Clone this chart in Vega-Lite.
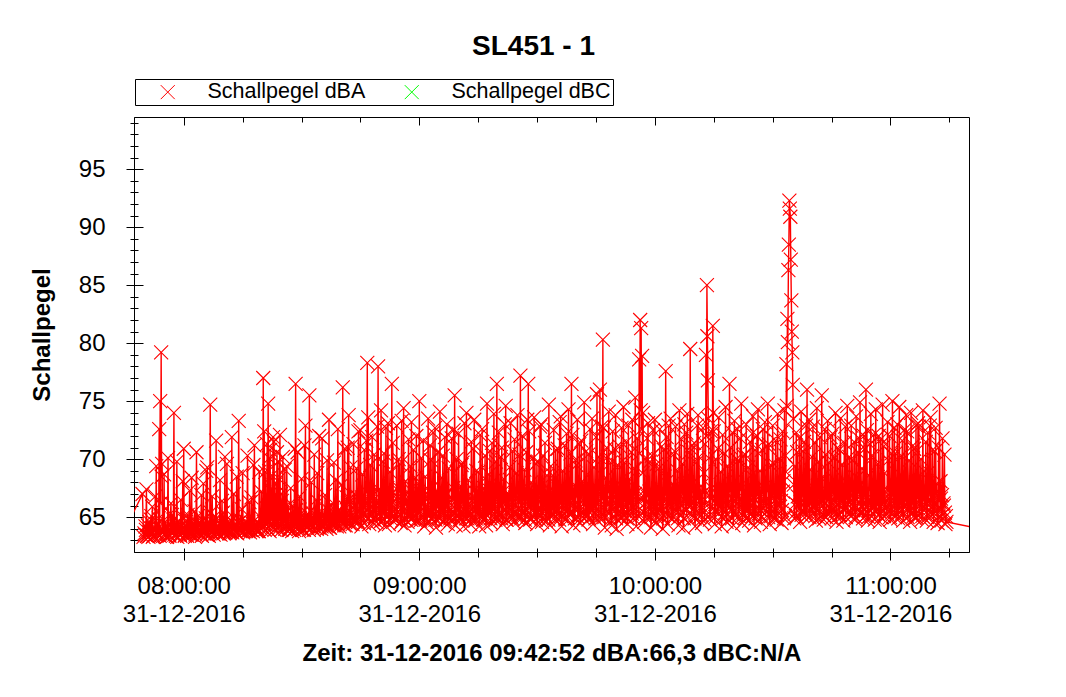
{
"$schema":"https://vega.github.io/schema/vega-lite/v6.json",
"width":835,"height":435,
"autosize":"none",
"padding":{"left":134,"top":117,"right":97,"bottom":145},
"background":"white",
"title":{"text":"SL451 - 1","font":"Liberation Sans","fontSize":28,"fontWeight":"bold","color":"#000","anchor":"middle","dx":-18,"offset":18},
"config":{
 "view":{"stroke":"#000","strokeWidth":1},
 "axis":{"labelFont":"Liberation Sans","titleFont":"Liberation Sans","labelFontSize":24,"titleFontSize":24,"titleFontWeight":"bold","labelColor":"#000","titleColor":"#000","tickColor":"#000","domainColor":"#000","tickWidth":1,"domainWidth":1,"grid":false,"labelFlush":false,"labelOverlap":false,"labelBound":false}
},
"data":{"values":[
{"t":"07:45:00","v":63.9},{"t":"07:49:30","v":67.0},{"t":"07:49:45","v":63.3},
{"t":"07:50:00","v":63.6},{"t":"07:50:15","v":64.2},{"t":"07:50:30","v":67.4},{"t":"07:50:45","v":63.4},
{"t":"07:51:00","v":63.3},{"t":"07:51:15","v":64.6},{"t":"07:51:30","v":63.8},{"t":"07:51:45","v":65.1},
{"t":"07:52:00","v":65.9},{"t":"07:52:15","v":63.4},{"t":"07:52:30","v":64.0},{"t":"07:52:45","v":66.8},
{"t":"07:53:00","v":69.4},{"t":"07:53:15","v":63.6},{"t":"07:53:30","v":63.5},{"t":"07:53:45","v":72.6},
{"t":"07:54:00","v":75.0},{"t":"07:54:15","v":79.2},{"t":"07:54:30","v":69.6},{"t":"07:54:45","v":63.7},
{"t":"07:55:00","v":68.7},{"t":"07:55:15","v":63.4},{"t":"07:55:30","v":64.1},{"t":"07:55:45","v":63.3},
{"t":"07:56:00","v":70.1},{"t":"07:56:15","v":63.5},{"t":"07:56:30","v":63.8},{"t":"07:56:45","v":66.2},
{"t":"07:57:00","v":65.2},{"t":"07:57:15","v":63.6},{"t":"07:57:30","v":74.0},{"t":"07:57:45","v":64.3},
{"t":"07:58:00","v":63.4},{"t":"07:58:15","v":69.8},{"t":"07:58:30","v":63.7},{"t":"07:58:45","v":64.5},
{"t":"07:59:00","v":63.5},{"t":"07:59:15","v":66.5},{"t":"07:59:30","v":63.9},{"t":"07:59:45","v":68.1},
{"t":"08:00:00","v":70.9},{"t":"08:00:15","v":63.4},{"t":"08:00:30","v":64.2},{"t":"08:00:45","v":63.6},
{"t":"08:01:00","v":65.2},{"t":"08:01:15","v":63.6},{"t":"08:01:30","v":67.3},{"t":"08:01:45","v":63.5},
{"t":"08:02:00","v":68.4},{"t":"08:02:15","v":63.7},{"t":"08:02:30","v":64.0},{"t":"08:02:45","v":65.5},
{"t":"08:03:00","v":63.5},{"t":"08:03:15","v":70.6},{"t":"08:03:30","v":63.8},{"t":"08:03:45","v":64.4},
{"t":"08:04:00","v":64.0},{"t":"08:04:15","v":63.6},{"t":"08:04:30","v":66.9},{"t":"08:04:45","v":63.9},
{"t":"08:05:00","v":67.9},{"t":"08:05:15","v":63.8},{"t":"08:05:30","v":64.3},{"t":"08:05:45","v":69.0},
{"t":"08:06:00","v":69.3},{"t":"08:06:15","v":63.7},{"t":"08:06:30","v":64.1},{"t":"08:06:45","v":74.7},
{"t":"08:07:00","v":63.7},{"t":"08:07:15","v":66.8},{"t":"08:07:30","v":63.9},{"t":"08:07:45","v":65.0},
{"t":"08:08:00","v":63.9},{"t":"08:08:15","v":71.6},{"t":"08:08:30","v":64.2},{"t":"08:08:45","v":63.6},
{"t":"08:09:00","v":63.6},{"t":"08:09:15","v":68.2},{"t":"08:09:30","v":64.0},{"t":"08:09:45","v":66.4},
{"t":"08:10:00","v":65.4},{"t":"08:10:15","v":63.7},{"t":"08:10:30","v":70.2},{"t":"08:10:45","v":63.8},
{"t":"08:11:00","v":69.6},{"t":"08:11:15","v":63.9},{"t":"08:11:30","v":64.5},{"t":"08:11:45","v":63.7},
{"t":"08:12:00","v":63.8},{"t":"08:12:15","v":71.9},{"t":"08:12:30","v":64.1},{"t":"08:12:45","v":67.0},
{"t":"08:13:00","v":64.4},{"t":"08:13:15","v":63.7},{"t":"08:13:30","v":68.5},{"t":"08:13:45","v":64.0},
{"t":"08:14:00","v":73.3},{"t":"08:14:15","v":64.0},{"t":"08:14:30","v":63.8},{"t":"08:14:45","v":65.7},
{"t":"08:15:00","v":68.8},{"t":"08:15:15","v":63.8},{"t":"08:15:30","v":64.4},{"t":"08:15:45","v":63.9},
{"t":"08:16:00","v":64.6},{"t":"08:16:15","v":70.3},{"t":"08:16:30","v":63.9},{"t":"08:16:45","v":66.3},
{"t":"08:17:00","v":63.9},{"t":"08:17:15","v":66.7},{"t":"08:17:30","v":64.2},{"t":"08:17:45","v":69.5},
{"t":"08:18:00","v":71.2},{"t":"08:18:15","v":64.1},{"t":"08:18:30","v":63.8},{"t":"08:18:45","v":64.6},
{"t":"08:19:00","v":63.8},{"t":"08:19:15","v":68.9},{"t":"08:19:30","v":64.3},{"t":"08:19:45","v":67.2},
{"t":"08:20:00","v":64.2},{"t":"08:20:15","v":77.0},{"t":"08:20:30","v":72.4},{"t":"08:20:45","v":68.9},
{"t":"08:21:00","v":66.8},{"t":"08:21:15","v":71.3},{"t":"08:21:30","v":74.8},{"t":"08:21:45","v":70.1},
{"t":"08:22:00","v":70.8},{"t":"08:22:15","v":67.4},{"t":"08:22:30","v":68.6},{"t":"08:22:45","v":71.9},
{"t":"08:23:00","v":71.5},{"t":"08:23:15","v":66.9},{"t":"08:23:30","v":67.9},{"t":"08:23:45","v":70.6},
{"t":"08:24:00","v":69.8},{"t":"08:24:15","v":68.3},{"t":"08:24:30","v":72.1},{"t":"08:24:45","v":67.0},
{"t":"08:25:00","v":66.4},{"t":"08:25:15","v":70.2},{"t":"08:25:30","v":65.8},{"t":"08:25:45","v":69.1},
{"t":"08:26:00","v":64.2},{"t":"08:26:15","v":69.4},{"t":"08:26:30","v":65.1},{"t":"08:26:45","v":64.0},
{"t":"08:27:00","v":63.9},{"t":"08:27:15","v":67.5},{"t":"08:27:30","v":64.4},{"t":"08:27:45","v":66.0},
{"t":"08:28:00","v":64.4},{"t":"08:28:15","v":70.9},{"t":"08:28:30","v":76.5},{"t":"08:28:45","v":64.7},
{"t":"08:29:00","v":70.6},{"t":"08:29:15","v":64.0},{"t":"08:29:30","v":66.8},{"t":"08:29:45","v":64.3},
{"t":"08:30:00","v":68.3},{"t":"08:30:15","v":63.9},{"t":"08:30:30","v":64.6},{"t":"08:30:45","v":71.2},
{"t":"08:31:00","v":72.9},{"t":"08:31:15","v":64.1},{"t":"08:31:30","v":65.3},{"t":"08:31:45","v":64.2},
{"t":"08:32:00","v":75.5},{"t":"08:32:15","v":64.5},{"t":"08:32:30","v":68.0},{"t":"08:32:45","v":64.1},
{"t":"08:33:00","v":64.2},{"t":"08:33:15","v":70.4},{"t":"08:33:30","v":64.8},{"t":"08:33:45","v":66.5},
{"t":"08:34:00","v":68.8},{"t":"08:34:15","v":64.6},{"t":"08:34:30","v":72.0},{"t":"08:34:45","v":64.3},
{"t":"08:35:00","v":64.0},{"t":"08:35:15","v":71.8},{"t":"08:35:30","v":65.2},{"t":"08:35:45","v":64.5},
{"t":"08:36:00","v":66.9},{"t":"08:36:15","v":64.3},{"t":"08:36:30","v":69.9},{"t":"08:36:45","v":64.7},
{"t":"08:37:00","v":73.4},{"t":"08:37:15","v":64.1},{"t":"08:37:30","v":66.1},{"t":"08:37:45","v":64.4},
{"t":"08:38:00","v":65.8},{"t":"08:38:15","v":69.7},{"t":"08:38:30","v":64.5},{"t":"08:38:45","v":68.2},
{"t":"08:39:00","v":64.2},{"t":"08:39:15","v":72.6},{"t":"08:39:30","v":64.9},{"t":"08:39:45","v":65.6},
{"t":"08:40:00","v":64.6},{"t":"08:40:15","v":67.8},{"t":"08:40:30","v":76.2},{"t":"08:40:45","v":64.8},
{"t":"08:41:00","v":70.9},{"t":"08:41:15","v":64.3},{"t":"08:41:30","v":66.7},{"t":"08:41:45","v":71.0},
{"t":"08:42:00","v":73.8},{"t":"08:42:15","v":64.5},{"t":"08:42:30","v":69.3},{"t":"08:42:45","v":65.1},
{"t":"08:43:00","v":64.4},{"t":"08:43:15","v":71.3},{"t":"08:43:30","v":67.0},{"t":"08:43:45","v":64.6},
{"t":"08:44:00","v":69.2},{"t":"08:44:15","v":64.7},{"t":"08:44:30","v":72.4},{"t":"08:44:45","v":66.3},
{"t":"08:45:00","v":72.5},{"t":"08:45:15","v":64.2},{"t":"08:45:30","v":68.7},{"t":"08:45:45","v":65.4},
{"t":"08:46:00","v":70.8},{"t":"08:46:15","v":66.0},{"t":"08:46:30","v":71.6},{"t":"08:46:45","v":78.3},
{"t":"08:47:00","v":73.6},{"t":"08:47:15","v":64.4},{"t":"08:47:30","v":69.5},{"t":"08:47:45","v":66.8},
{"t":"08:48:00","v":71.9},{"t":"08:48:15","v":64.5},{"t":"08:48:30","v":70.4},{"t":"08:48:45","v":65.7},
{"t":"08:49:00","v":66.2},{"t":"08:49:15","v":72.8},{"t":"08:49:30","v":78.0},{"t":"08:49:45","v":67.4},
{"t":"08:50:00","v":64.6},{"t":"08:50:15","v":74.2},{"t":"08:50:30","v":65.5},{"t":"08:50:45","v":69.8},
{"t":"08:51:00","v":70.5},{"t":"08:51:15","v":64.3},{"t":"08:51:30","v":72.7},{"t":"08:51:45","v":66.1},
{"t":"08:52:00","v":73.1},{"t":"08:52:15","v":64.4},{"t":"08:52:30","v":68.9},{"t":"08:52:45","v":65.3},
{"t":"08:53:00","v":76.5},{"t":"08:53:15","v":71.4},{"t":"08:53:30","v":66.4},{"t":"08:53:45","v":64.8},
{"t":"08:54:00","v":64.8},{"t":"08:54:15","v":72.9},{"t":"08:54:30","v":67.6},{"t":"08:54:45","v":70.0},
{"t":"08:55:00","v":69.6},{"t":"08:55:15","v":64.5},{"t":"08:55:30","v":73.3},{"t":"08:55:45","v":65.9},
{"t":"08:56:00","v":74.4},{"t":"08:56:15","v":64.3},{"t":"08:56:30","v":68.1},{"t":"08:56:45","v":66.6},
{"t":"08:57:00","v":64.6},{"t":"08:57:15","v":71.7},{"t":"08:57:30","v":65.2},{"t":"08:57:45","v":69.4},
{"t":"08:58:00","v":73.2},{"t":"08:58:15","v":64.9},{"t":"08:58:30","v":70.8},{"t":"08:58:45","v":65.6},
{"t":"08:59:00","v":68.4},{"t":"08:59:15","v":72.0},{"t":"08:59:30","v":64.7},{"t":"08:59:45","v":67.9},
{"t":"09:00:00","v":75.0},{"t":"09:00:15","v":64.7},{"t":"09:00:30","v":70.1},{"t":"09:00:45","v":66.2},
{"t":"09:01:00","v":71.6},{"t":"09:01:15","v":64.2},{"t":"09:01:30","v":68.5},{"t":"09:01:45","v":65.4},
{"t":"09:02:00","v":64.5},{"t":"09:02:15","v":73.5},{"t":"09:02:30","v":66.9},{"t":"09:02:45","v":71.2},
{"t":"09:03:00","v":69.9},{"t":"09:03:15","v":64.8},{"t":"09:03:30","v":72.3},{"t":"09:03:45","v":65.8},
{"t":"09:04:00","v":72.7},{"t":"09:04:15","v":64.1},{"t":"09:04:30","v":67.3},{"t":"09:04:45","v":70.6},
{"t":"09:05:00","v":64.9},{"t":"09:05:15","v":74.1},{"t":"09:05:30","v":65.7},{"t":"09:05:45","v":68.4},
{"t":"09:06:00","v":70.3},{"t":"09:06:15","v":64.6},{"t":"09:06:30","v":71.9},{"t":"09:06:45","v":66.0},
{"t":"09:07:00","v":73.0},{"t":"09:07:15","v":64.4},{"t":"09:07:30","v":69.2},{"t":"09:07:45","v":65.5},
{"t":"09:08:00","v":64.7},{"t":"09:08:15","v":71.8},{"t":"09:08:30","v":66.6},{"t":"09:08:45","v":72.5},
{"t":"09:09:00","v":75.5},{"t":"09:09:15","v":64.3},{"t":"09:09:30","v":70.0},{"t":"09:09:45","v":65.9},
{"t":"09:10:00","v":72.2},{"t":"09:10:15","v":64.8},{"t":"09:10:30","v":67.7},{"t":"09:10:45","v":69.5},
{"t":"09:11:00","v":69.7},{"t":"09:11:15","v":64.2},{"t":"09:11:30","v":73.1},{"t":"09:11:45","v":66.3},
{"t":"09:12:00","v":74.0},{"t":"09:12:15","v":64.9},{"t":"09:12:30","v":68.2},{"t":"09:12:45","v":65.1},
{"t":"09:13:00","v":64.4},{"t":"09:13:15","v":71.5},{"t":"09:13:30","v":66.8},{"t":"09:13:45","v":70.9},
{"t":"09:14:00","v":73.4},{"t":"09:14:15","v":64.7},{"t":"09:14:30","v":69.0},{"t":"09:14:45","v":65.7},
{"t":"09:15:00","v":68.9},{"t":"09:15:15","v":64.2},{"t":"09:15:30","v":72.1},{"t":"09:15:45","v":66.4},
{"t":"09:16:00","v":72.6},{"t":"09:16:15","v":64.8},{"t":"09:16:30","v":67.5},{"t":"09:16:45","v":70.3},
{"t":"09:17:00","v":64.3},{"t":"09:17:15","v":74.8},{"t":"09:17:30","v":65.6},{"t":"09:17:45","v":68.7},
{"t":"09:18:00","v":70.7},{"t":"09:18:15","v":64.5},{"t":"09:18:30","v":71.4},{"t":"09:18:45","v":66.1},
{"t":"09:19:00","v":73.9},{"t":"09:19:15","v":65.0},{"t":"09:19:30","v":69.8},{"t":"09:19:45","v":76.5},
{"t":"09:20:00","v":64.9},{"t":"09:20:15","v":72.3},{"t":"09:20:30","v":66.5},{"t":"09:20:45","v":70.2},
{"t":"09:21:00","v":71.0},{"t":"09:21:15","v":64.4},{"t":"09:21:30","v":68.3},{"t":"09:21:45","v":73.0},
{"t":"09:22:00","v":74.6},{"t":"09:22:15","v":64.8},{"t":"09:22:30","v":67.1},{"t":"09:22:45","v":65.4},
{"t":"09:23:00","v":69.3},{"t":"09:23:15","v":73.1},{"t":"09:23:30","v":65.8},{"t":"09:23:45","v":70.7},
{"t":"09:24:00","v":64.6},{"t":"09:24:15","v":71.7},{"t":"09:24:30","v":66.9},{"t":"09:24:45","v":68.8},
{"t":"09:25:00","v":73.8},{"t":"09:25:15","v":65.2},{"t":"09:25:30","v":70.4},{"t":"09:25:45","v":77.2},
{"t":"09:26:00","v":64.9},{"t":"09:26:15","v":72.0},{"t":"09:26:30","v":67.3},{"t":"09:26:45","v":69.1},
{"t":"09:27:00","v":64.5},{"t":"09:27:15","v":70.6},{"t":"09:27:30","v":73.4},{"t":"09:27:45","v":76.5},
{"t":"09:28:00","v":72.4},{"t":"09:28:15","v":64.8},{"t":"09:28:30","v":68.0},{"t":"09:28:45","v":66.2},
{"t":"09:29:00","v":70.1},{"t":"09:29:15","v":73.6},{"t":"09:29:30","v":65.5},{"t":"09:29:45","v":69.6},
{"t":"09:30:00","v":64.4},{"t":"09:30:15","v":69.8},{"t":"09:30:30","v":67.2},{"t":"09:30:45","v":72.8},
{"t":"09:31:00","v":73.0},{"t":"09:31:15","v":64.6},{"t":"09:31:30","v":70.3},{"t":"09:31:45","v":66.0},
{"t":"09:32:00","v":71.4},{"t":"09:32:15","v":64.7},{"t":"09:32:30","v":68.6},{"t":"09:32:45","v":65.3},
{"t":"09:33:00","v":74.7},{"t":"09:33:15","v":64.3},{"t":"09:33:30","v":69.4},{"t":"09:33:45","v":66.7},
{"t":"09:34:00","v":68.6},{"t":"09:34:15","v":72.5},{"t":"09:34:30","v":65.9},{"t":"09:34:45","v":70.8},
{"t":"09:35:00","v":64.9},{"t":"09:35:15","v":70.9},{"t":"09:35:30","v":67.4},{"t":"09:35:45","v":73.2},
{"t":"09:36:00","v":73.7},{"t":"09:36:15","v":64.2},{"t":"09:36:30","v":69.0},{"t":"09:36:45","v":66.4},
{"t":"09:37:00","v":71.2},{"t":"09:37:15","v":64.8},{"t":"09:37:30","v":72.2},{"t":"09:37:45","v":65.6},
{"t":"09:38:00","v":74.3},{"t":"09:38:15","v":66.1},{"t":"09:38:30","v":70.5},{"t":"09:38:45","v":76.5},
{"t":"09:39:00","v":72.1},{"t":"09:39:15","v":64.3},{"t":"09:39:30","v":67.8},{"t":"09:39:45","v":69.9},
{"t":"09:40:00","v":69.5},{"t":"09:40:15","v":73.4},{"t":"09:40:30","v":65.7},{"t":"09:40:45","v":71.3},
{"t":"09:41:00","v":64.5},{"t":"09:41:15","v":71.6},{"t":"09:41:30","v":68.1},{"t":"09:41:45","v":66.9},
{"t":"09:42:00","v":74.9},{"t":"09:42:15","v":66.3},{"t":"09:42:30","v":70.7},{"t":"09:42:45","v":65.2},
{"t":"09:43:00","v":70.4},{"t":"09:43:15","v":64.9},{"t":"09:43:30","v":72.6},{"t":"09:43:45","v":67.5},
{"t":"09:44:00","v":73.5},{"t":"09:44:15","v":64.4},{"t":"09:44:30","v":69.3},{"t":"09:44:45","v":66.0},
{"t":"09:45:00","v":71.9},{"t":"09:45:15","v":75.6},{"t":"09:45:30","v":67.0},{"t":"09:45:45","v":70.2},
{"t":"09:46:00","v":76.0},{"t":"09:46:15","v":65.4},{"t":"09:46:30","v":72.8},{"t":"09:46:45","v":80.3},
{"t":"09:47:00","v":72.7},{"t":"09:47:15","v":64.1},{"t":"09:47:30","v":68.4},{"t":"09:47:45","v":71.0},
{"t":"09:48:00","v":70.2},{"t":"09:48:15","v":74.1},{"t":"09:48:30","v":66.2},{"t":"09:48:45","v":69.7},
{"t":"09:49:00","v":64.3},{"t":"09:49:15","v":72.4},{"t":"09:49:30","v":67.6},{"t":"09:49:45","v":70.9},
{"t":"09:50:00","v":73.8},{"t":"09:50:15","v":64.0},{"t":"09:50:30","v":69.5},{"t":"09:50:45","v":66.5},
{"t":"09:51:00","v":71.1},{"t":"09:51:15","v":64.9},{"t":"09:51:30","v":72.7},{"t":"09:51:45","v":65.8},
{"t":"09:52:00","v":74.5},{"t":"09:52:15","v":69.7},{"t":"09:52:30","v":66.6},{"t":"09:52:45","v":71.5},
{"t":"09:53:00","v":64.4},{"t":"09:53:15","v":72.9},{"t":"09:53:30","v":68.3},{"t":"09:53:45","v":67.2},
{"t":"09:54:00","v":70.6},{"t":"09:54:15","v":73.4},{"t":"09:54:30","v":65.9},{"t":"09:54:45","v":69.2},
{"t":"09:55:00","v":75.3},{"t":"09:55:15","v":64.2},{"t":"09:55:30","v":71.8},{"t":"09:55:45","v":66.8},
{"t":"09:56:00","v":78.6},{"t":"09:56:15","v":82.0},{"t":"09:56:30","v":81.3},{"t":"09:56:45","v":78.9},
{"t":"09:57:00","v":74.0},{"t":"09:57:15","v":64.6},{"t":"09:57:30","v":70.0},{"t":"09:57:45","v":67.1},
{"t":"09:58:00","v":71.8},{"t":"09:58:15","v":73.1},{"t":"09:58:30","v":66.0},{"t":"09:58:45","v":69.8},
{"t":"09:59:00","v":64.1},{"t":"09:59:15","v":70.3},{"t":"09:59:30","v":72.5},{"t":"09:59:45","v":65.7},
{"t":"10:00:00","v":73.4},{"t":"10:00:15","v":64.5},{"t":"10:00:30","v":69.6},{"t":"10:00:45","v":66.9},
{"t":"10:01:00","v":69.2},{"t":"10:01:15","v":72.6},{"t":"10:01:30","v":65.4},{"t":"10:01:45","v":71.1},
{"t":"10:02:00","v":64.0},{"t":"10:02:15","v":70.8},{"t":"10:02:30","v":68.5},{"t":"10:02:45","v":77.6},
{"t":"10:03:00","v":71.9},{"t":"10:03:15","v":64.4},{"t":"10:03:30","v":72.9},{"t":"10:03:45","v":66.3},
{"t":"10:04:00","v":73.5},{"t":"10:04:15","v":64.9},{"t":"10:04:30","v":67.9},{"t":"10:04:45","v":70.4},
{"t":"10:05:00","v":70.7},{"t":"10:05:15","v":72.8},{"t":"10:05:30","v":65.6},{"t":"10:05:45","v":69.0},
{"t":"10:06:00","v":64.3},{"t":"10:06:15","v":74.2},{"t":"10:06:30","v":66.8},{"t":"10:06:45","v":71.7},
{"t":"10:07:00","v":69.6},{"t":"10:07:15","v":64.1},{"t":"10:07:30","v":73.0},{"t":"10:07:45","v":67.4},
{"t":"10:08:00","v":72.3},{"t":"10:08:15","v":73.9},{"t":"10:08:30","v":66.1},{"t":"10:08:45","v":70.6},
{"t":"10:09:00","v":79.5},{"t":"10:09:15","v":66.0},{"t":"10:09:30","v":71.2},{"t":"10:09:45","v":68.0},
{"t":"10:10:00","v":71.4},{"t":"10:10:15","v":64.2},{"t":"10:10:30","v":69.7},{"t":"10:10:45","v":72.9},
{"t":"10:11:00","v":73.8},{"t":"10:11:15","v":70.2},{"t":"10:11:30","v":65.8},{"t":"10:11:45","v":67.7},
{"t":"10:12:00","v":64.5},{"t":"10:12:15","v":72.7},{"t":"10:12:30","v":68.8},{"t":"10:12:45","v":71.3},
{"t":"10:13:00","v":79.0},{"t":"10:13:15","v":85.0},{"t":"10:13:30","v":76.8},{"t":"10:13:45","v":70.1},
{"t":"10:14:00","v":64.8},{"t":"10:14:15","v":72.4},{"t":"10:14:30","v":67.5},{"t":"10:14:45","v":81.5},
{"t":"10:15:00","v":72.4},{"t":"10:15:15","v":64.4},{"t":"10:15:30","v":70.0},{"t":"10:15:45","v":66.6},
{"t":"10:16:00","v":70.9},{"t":"10:16:15","v":73.6},{"t":"10:16:30","v":65.9},{"t":"10:16:45","v":68.9},
{"t":"10:17:00","v":64.2},{"t":"10:17:15","v":72.1},{"t":"10:17:30","v":67.3},{"t":"10:17:45","v":70.5},
{"t":"10:18:00","v":74.5},{"t":"10:18:15","v":64.6},{"t":"10:18:30","v":69.4},{"t":"10:18:45","v":66.2},
{"t":"10:19:00","v":76.5},{"t":"10:19:15","v":71.0},{"t":"10:19:30","v":65.7},{"t":"10:19:45","v":72.3},
{"t":"10:20:00","v":64.3},{"t":"10:20:15","v":73.3},{"t":"10:20:30","v":68.2},{"t":"10:20:45","v":70.0},
{"t":"10:21:00","v":72.6},{"t":"10:21:15","v":69.9},{"t":"10:21:30","v":66.4},{"t":"10:21:45","v":71.8},
{"t":"10:22:00","v":74.8},{"t":"10:22:15","v":64.5},{"t":"10:22:30","v":70.3},{"t":"10:22:45","v":67.0},
{"t":"10:23:00","v":70.4},{"t":"10:23:15","v":73.0},{"t":"10:23:30","v":65.6},{"t":"10:23:45","v":69.3},
{"t":"10:24:00","v":64.7},{"t":"10:24:15","v":71.5},{"t":"10:24:30","v":68.6},{"t":"10:24:45","v":72.2},
{"t":"10:25:00","v":73.7},{"t":"10:25:15","v":64.3},{"t":"10:25:30","v":70.8},{"t":"10:25:45","v":66.5},
{"t":"10:26:00","v":72.0},{"t":"10:26:15","v":74.3},{"t":"10:26:30","v":65.8},{"t":"10:26:45","v":69.0},
{"t":"10:27:00","v":64.6},{"t":"10:27:15","v":70.8},{"t":"10:27:30","v":72.6},{"t":"10:27:45","v":67.6},
{"t":"10:28:00","v":73.2},{"t":"10:28:15","v":66.0},{"t":"10:28:30","v":71.1},{"t":"10:28:45","v":74.8},
{"t":"10:29:00","v":71.3},{"t":"10:29:15","v":64.4},{"t":"10:29:30","v":69.5},{"t":"10:29:45","v":66.9},
{"t":"10:30:00","v":72.9},{"t":"10:30:15","v":69.6},{"t":"10:30:30","v":65.7},{"t":"10:30:45","v":71.6},
{"t":"10:31:00","v":64.8},{"t":"10:31:15","v":73.9},{"t":"10:31:30","v":67.2},{"t":"10:31:45","v":70.0},
{"t":"10:32:00","v":71.7},{"t":"10:32:15","v":64.5},{"t":"10:32:30","v":72.4},{"t":"10:32:45","v":68.1},
{"t":"10:33:00","v":74.2},{"t":"10:33:15","v":70.3},{"t":"10:33:30","v":78.2},{"t":"10:33:45","v":82.1},
{"t":"10:34:00","v":86.3},{"t":"10:34:15","v":92.3},{"t":"10:34:30","v":90.9},{"t":"10:34:45","v":83.7},
{"t":"10:35:00","v":79.2},{"t":"10:35:15","v":73.5},{"t":"10:35:30","v":64.9},{"t":"10:35:45","v":69.4},
{"t":"10:36:00","v":72.3},{"t":"10:36:15","v":70.6},{"t":"10:36:30","v":66.0},{"t":"10:36:45","v":71.8},
{"t":"10:37:00","v":64.6},{"t":"10:37:15","v":74.1},{"t":"10:37:30","v":68.0},{"t":"10:37:45","v":70.7},
{"t":"10:38:00","v":71.5},{"t":"10:38:15","v":65.3},{"t":"10:38:30","v":72.9},{"t":"10:38:45","v":76.0},
{"t":"10:39:00","v":66.0},{"t":"10:39:15","v":73.4},{"t":"10:39:30","v":69.1},{"t":"10:39:45","v":67.3},
{"t":"10:40:00","v":70.2},{"t":"10:40:15","v":72.8},{"t":"10:40:30","v":65.9},{"t":"10:40:45","v":71.4},
{"t":"10:41:00","v":64.7},{"t":"10:41:15","v":74.4},{"t":"10:41:30","v":67.7},{"t":"10:41:45","v":69.8},
{"t":"10:42:00","v":71.9},{"t":"10:42:15","v":66.2},{"t":"10:42:30","v":75.5},{"t":"10:42:45","v":68.5},
{"t":"10:43:00","v":64.8},{"t":"10:43:15","v":72.6},{"t":"10:43:30","v":70.4},{"t":"10:43:45","v":66.7},
{"t":"10:44:00","v":73.3},{"t":"10:44:15","v":69.7},{"t":"10:44:30","v":65.5},{"t":"10:44:45","v":71.9},
{"t":"10:45:00","v":64.9},{"t":"10:45:15","v":72.2},{"t":"10:45:30","v":68.3},{"t":"10:45:45","v":70.1},
{"t":"10:46:00","v":74.0},{"t":"10:46:15","v":64.6},{"t":"10:46:30","v":71.0},{"t":"10:46:45","v":67.0},
{"t":"10:47:00","v":70.8},{"t":"10:47:15","v":73.5},{"t":"10:47:30","v":66.3},{"t":"10:47:45","v":69.5},
{"t":"10:48:00","v":64.7},{"t":"10:48:15","v":71.4},{"t":"10:48:30","v":72.8},{"t":"10:48:45","v":68.0},
{"t":"10:49:00","v":74.6},{"t":"10:49:15","v":66.1},{"t":"10:49:30","v":70.2},{"t":"10:49:45","v":67.8},
{"t":"10:50:00","v":72.9},{"t":"10:50:15","v":69.9},{"t":"10:50:30","v":65.6},{"t":"10:50:45","v":71.5},
{"t":"10:51:00","v":64.8},{"t":"10:51:15","v":73.7},{"t":"10:51:30","v":68.4},{"t":"10:51:45","v":70.6},
{"t":"10:52:00","v":71.8},{"t":"10:52:15","v":74.9},{"t":"10:52:30","v":66.5},{"t":"10:52:45","v":69.2},
{"t":"10:53:00","v":64.9},{"t":"10:53:15","v":72.0},{"t":"10:53:30","v":70.9},{"t":"10:53:45","v":76.0},
{"t":"10:54:00","v":72.5},{"t":"10:54:15","v":64.7},{"t":"10:54:30","v":68.6},{"t":"10:54:45","v":71.3},
{"t":"10:55:00","v":73.9},{"t":"10:55:15","v":70.3},{"t":"10:55:30","v":66.0},{"t":"10:55:45","v":72.1},
{"t":"10:56:00","v":64.8},{"t":"10:56:15","v":74.3},{"t":"10:56:30","v":67.9},{"t":"10:56:45","v":69.6},
{"t":"10:57:00","v":72.0},{"t":"10:57:15","v":64.6},{"t":"10:57:30","v":71.7},{"t":"10:57:45","v":66.4},
{"t":"10:58:00","v":74.7},{"t":"10:58:15","v":71.1},{"t":"10:58:30","v":68.8},{"t":"10:58:45","v":65.8},
{"t":"10:59:00","v":66.0},{"t":"10:59:15","v":73.2},{"t":"10:59:30","v":69.9},{"t":"10:59:45","v":72.0},
{"t":"11:00:00","v":64.8},{"t":"11:00:15","v":70.5},{"t":"11:00:30","v":75.0},{"t":"11:00:45","v":67.1},
{"t":"11:01:00","v":72.7},{"t":"11:01:15","v":70.5},{"t":"11:01:30","v":66.2},{"t":"11:01:45","v":73.0},
{"t":"11:02:00","v":64.9},{"t":"11:02:15","v":74.5},{"t":"11:02:30","v":68.7},{"t":"11:02:45","v":70.3},
{"t":"11:03:00","v":71.6},{"t":"11:03:15","v":64.7},{"t":"11:03:30","v":72.5},{"t":"11:03:45","v":66.9},
{"t":"11:04:00","v":73.8},{"t":"11:04:15","v":72.4},{"t":"11:04:30","v":65.7},{"t":"11:04:45","v":69.9},
{"t":"11:05:00","v":64.6},{"t":"11:05:15","v":74.0},{"t":"11:05:30","v":67.6},{"t":"11:05:45","v":71.2},
{"t":"11:06:00","v":70.9},{"t":"11:06:15","v":64.9},{"t":"11:06:30","v":72.9},{"t":"11:06:45","v":68.2},
{"t":"11:07:00","v":73.1},{"t":"11:07:15","v":72.8},{"t":"11:07:30","v":66.1},{"t":"11:07:45","v":70.0},
{"t":"11:08:00","v":64.8},{"t":"11:08:15","v":74.2},{"t":"11:08:30","v":69.0},{"t":"11:08:45","v":67.4},
{"t":"11:09:00","v":71.5},{"t":"11:09:15","v":64.7},{"t":"11:09:30","v":72.3},{"t":"11:09:45","v":68.9},
{"t":"11:10:00","v":72.9},{"t":"11:10:15","v":73.6},{"t":"11:10:30","v":66.4},{"t":"11:10:45","v":70.8},
{"t":"11:11:00","v":64.6},{"t":"11:11:15","v":70.7},{"t":"11:11:30","v":72.7},{"t":"11:11:45","v":67.9},
{"t":"11:12:00","v":64.5},{"t":"11:12:15","v":71.0},{"t":"11:12:30","v":74.8},{"t":"11:12:45","v":68.1},
{"t":"11:13:00","v":64.7},{"t":"11:13:15","v":71.8},{"t":"11:13:30","v":66.2},{"t":"11:13:45","v":70.4},
{"t":"11:14:00","v":64.4},{"t":"11:14:15","v":64.6},{"t":"11:30:00","v":63.5},
{"t":"07:50:07","v":63.5},{"t":"07:50:22","v":63.9},{"t":"07:50:37","v":63.4},{"t":"07:50:52","v":64.3},
{"t":"07:51:07","v":63.7},{"t":"07:51:22","v":63.4},{"t":"07:51:37","v":64.8},{"t":"07:51:52","v":63.6},
{"t":"07:52:07","v":63.3},{"t":"07:52:22","v":64.1},{"t":"07:52:37","v":63.8},{"t":"07:52:52","v":63.5},
{"t":"07:53:07","v":64.4},{"t":"07:53:22","v":63.6},{"t":"07:53:37","v":64.9},{"t":"07:53:52","v":63.4},
{"t":"07:54:07","v":66.2},{"t":"07:54:22","v":68.5},{"t":"07:54:37","v":64.0},{"t":"07:54:52","v":63.8},
{"t":"07:55:07","v":63.5},{"t":"07:55:22","v":64.6},{"t":"07:55:37","v":63.3},{"t":"07:55:52","v":64.2},
{"t":"07:56:07","v":63.9},{"t":"07:56:22","v":63.4},{"t":"07:56:37","v":65.3},{"t":"07:56:52","v":63.7},
{"t":"07:57:07","v":63.6},{"t":"07:57:22","v":64.8},{"t":"07:57:37","v":63.5},{"t":"07:57:52","v":63.9},
{"t":"07:58:07","v":64.5},{"t":"07:58:22","v":63.3},{"t":"07:58:37","v":64.1},{"t":"07:58:52","v":63.8},
{"t":"07:59:07","v":63.4},{"t":"07:59:22","v":64.3},{"t":"07:59:37","v":63.7},{"t":"07:59:52","v":65.0},
{"t":"08:00:07","v":63.8},{"t":"08:00:22","v":63.5},{"t":"08:00:37","v":64.6},{"t":"08:00:52","v":63.4},
{"t":"08:01:07","v":64.0},{"t":"08:01:22","v":63.9},{"t":"08:01:37","v":63.6},{"t":"08:01:52","v":64.7},
{"t":"08:02:07","v":63.5},{"t":"08:02:22","v":64.4},{"t":"08:02:37","v":63.8},{"t":"08:02:52","v":63.3},
{"t":"08:03:07","v":64.2},{"t":"08:03:22","v":63.7},{"t":"08:03:37","v":65.1},{"t":"08:03:52","v":63.6},
{"t":"08:04:07","v":63.9},{"t":"08:04:22","v":64.5},{"t":"08:04:37","v":63.4},{"t":"08:04:52","v":64.1},
{"t":"08:05:07","v":63.6},{"t":"08:05:22","v":63.8},{"t":"08:05:37","v":64.9},{"t":"08:05:52","v":63.5},
{"t":"08:06:07","v":64.3},{"t":"08:06:22","v":63.4},{"t":"08:06:37","v":63.9},{"t":"08:06:52","v":65.4},
{"t":"08:07:07","v":63.7},{"t":"08:07:22","v":64.6},{"t":"08:07:37","v":63.5},{"t":"08:07:52","v":64.0},
{"t":"08:08:07","v":63.8},{"t":"08:08:22","v":63.6},{"t":"08:08:37","v":64.3},{"t":"08:08:52","v":63.9},
{"t":"08:09:07","v":64.7},{"t":"08:09:22","v":63.5},{"t":"08:09:37","v":63.8},{"t":"08:09:52","v":64.2},
{"t":"08:10:07","v":63.6},{"t":"08:10:22","v":64.0},{"t":"08:10:37","v":63.7},{"t":"08:10:52","v":64.8},
{"t":"08:11:07","v":63.9},{"t":"08:11:22","v":64.4},{"t":"08:11:37","v":63.6},{"t":"08:11:52","v":63.8},
{"t":"08:12:07","v":64.1},{"t":"08:12:22","v":63.7},{"t":"08:12:37","v":65.0},{"t":"08:12:52","v":63.9},
{"t":"08:13:07","v":63.8},{"t":"08:13:22","v":64.3},{"t":"08:13:37","v":63.6},{"t":"08:13:52","v":64.5},
{"t":"08:14:07","v":64.0},{"t":"08:14:22","v":63.9},{"t":"08:14:37","v":64.7},{"t":"08:14:52","v":63.8},
{"t":"08:15:07","v":63.7},{"t":"08:15:22","v":64.2},{"t":"08:15:37","v":63.9},{"t":"08:15:52","v":64.6},
{"t":"08:16:07","v":64.4},{"t":"08:16:22","v":63.8},{"t":"08:16:37","v":64.1},{"t":"08:16:52","v":63.7},
{"t":"08:17:07","v":63.9},{"t":"08:17:22","v":64.5},{"t":"08:17:37","v":63.8},{"t":"08:17:52","v":64.3},
{"t":"08:18:07","v":64.2},{"t":"08:18:22","v":63.9},{"t":"08:18:37","v":64.6},{"t":"08:18:52","v":64.0},
{"t":"08:19:07","v":63.8},{"t":"08:19:22","v":64.4},{"t":"08:19:37","v":64.0},{"t":"08:19:52","v":64.9},
{"t":"08:20:07","v":64.1},{"t":"08:20:22","v":64.6},{"t":"08:20:37","v":63.9},{"t":"08:20:52","v":64.4},
{"t":"08:21:07","v":64.8},{"t":"08:21:22","v":64.0},{"t":"08:21:37","v":64.5},{"t":"08:21:52","v":63.8},
{"t":"08:22:07","v":64.3},{"t":"08:22:22","v":64.9},{"t":"08:22:37","v":64.2},{"t":"08:22:52","v":64.6},
{"t":"08:23:07","v":63.9},{"t":"08:23:22","v":64.7},{"t":"08:23:37","v":64.1},{"t":"08:23:52","v":64.4},
{"t":"08:24:07","v":64.0},{"t":"08:24:22","v":64.8},{"t":"08:24:37","v":64.3},{"t":"08:24:52","v":63.9},
{"t":"08:25:07","v":64.5},{"t":"08:25:22","v":64.2},{"t":"08:25:37","v":64.6},{"t":"08:25:52","v":64.0},
{"t":"08:26:07","v":65.4},{"t":"08:26:22","v":64.3},{"t":"08:26:37","v":66.0},{"t":"08:26:52","v":63.9},
{"t":"08:27:07","v":64.1},{"t":"08:27:22","v":65.2},{"t":"08:27:37","v":63.8},{"t":"08:27:52","v":64.6},
{"t":"08:28:07","v":63.9},{"t":"08:28:22","v":64.7},{"t":"08:28:37","v":65.6},{"t":"08:28:52","v":64.2},
{"t":"08:29:07","v":64.5},{"t":"08:29:22","v":63.8},{"t":"08:29:37","v":64.9},{"t":"08:29:52","v":65.3},
{"t":"08:30:07","v":64.0},{"t":"08:30:22","v":64.8},{"t":"08:30:37","v":63.9},{"t":"08:30:52","v":64.4},
{"t":"08:31:07","v":65.1},{"t":"08:31:22","v":64.2},{"t":"08:31:37","v":64.6},{"t":"08:31:52","v":63.9},
{"t":"08:32:07","v":64.3},{"t":"08:32:22","v":65.5},{"t":"08:32:37","v":64.1},{"t":"08:32:52","v":64.7},
{"t":"08:33:07","v":63.9},{"t":"08:33:22","v":64.6},{"t":"08:33:37","v":65.2},{"t":"08:33:52","v":64.0},
{"t":"08:34:07","v":64.8},{"t":"08:34:22","v":64.1},{"t":"08:34:37","v":64.5},{"t":"08:34:52","v":65.4},
{"t":"08:35:07","v":64.2},{"t":"08:35:22","v":65.0},{"t":"08:35:37","v":64.3},{"t":"08:35:52","v":64.6},
{"t":"08:36:07","v":64.5},{"t":"08:36:22","v":64.0},{"t":"08:36:37","v":65.7},{"t":"08:36:52","v":64.2},
{"t":"08:37:07","v":64.1},{"t":"08:37:22","v":64.9},{"t":"08:37:37","v":64.4},{"t":"08:37:52","v":65.1},
{"t":"08:38:07","v":64.7},{"t":"08:38:22","v":64.3},{"t":"08:38:37","v":65.3},{"t":"08:38:52","v":64.5},
{"t":"08:39:07","v":64.4},{"t":"08:39:22","v":65.6},{"t":"08:39:37","v":64.2},{"t":"08:39:52","v":64.8},
{"t":"08:40:07","v":64.9},{"t":"08:40:22","v":64.5},{"t":"08:40:37","v":65.0},{"t":"08:40:52","v":64.3},
{"t":"08:41:07","v":64.6},{"t":"08:41:22","v":65.8},{"t":"08:41:37","v":64.7},{"t":"08:41:52","v":66.2},
{"t":"08:42:07","v":65.2},{"t":"08:42:22","v":64.4},{"t":"08:42:37","v":66.5},{"t":"08:42:52","v":64.9},
{"t":"08:43:07","v":64.7},{"t":"08:43:22","v":66.0},{"t":"08:43:37","v":65.1},{"t":"08:43:52","v":64.8},
{"t":"08:44:07","v":65.5},{"t":"08:44:22","v":64.6},{"t":"08:44:37","v":66.3},{"t":"08:44:52","v":65.0},
{"t":"08:45:07","v":64.8},{"t":"08:45:22","v":66.7},{"t":"08:45:37","v":65.3},{"t":"08:45:52","v":64.5},
{"t":"08:46:07","v":66.1},{"t":"08:46:22","v":65.0},{"t":"08:46:37","v":67.2},{"t":"08:46:52","v":65.6},
{"t":"08:47:07","v":64.9},{"t":"08:47:22","v":66.4},{"t":"08:47:37","v":65.2},{"t":"08:47:52","v":67.0},
{"t":"08:48:07","v":65.7},{"t":"08:48:22","v":64.8},{"t":"08:48:37","v":66.6},{"t":"08:48:52","v":65.1},
{"t":"08:49:07","v":64.6},{"t":"08:49:22","v":67.3},{"t":"08:49:37","v":65.4},{"t":"08:49:52","v":66.0},
{"t":"08:50:07","v":65.9},{"t":"08:50:22","v":64.7},{"t":"08:50:37","v":66.8},{"t":"08:50:52","v":65.3},
{"t":"08:51:07","v":64.8},{"t":"08:51:22","v":66.2},{"t":"08:51:37","v":65.0},{"t":"08:51:52","v":67.5},
{"t":"08:52:07","v":66.4},{"t":"08:52:22","v":65.2},{"t":"08:52:37","v":64.9},{"t":"08:52:52","v":66.1},
{"t":"08:53:07","v":65.0},{"t":"08:53:22","v":67.1},{"t":"08:53:37","v":65.7},{"t":"08:53:52","v":64.8},
{"t":"08:54:07","v":66.6},{"t":"08:54:22","v":64.9},{"t":"08:54:37","v":65.8},{"t":"08:54:52","v":67.2},
{"t":"08:55:07","v":65.3},{"t":"08:55:22","v":66.5},{"t":"08:55:37","v":64.7},{"t":"08:55:52","v":65.9},
{"t":"08:56:07","v":64.9},{"t":"08:56:22","v":67.0},{"t":"08:56:37","v":66.1},{"t":"08:56:52","v":65.2},
{"t":"08:57:07","v":66.3},{"t":"08:57:22","v":65.1},{"t":"08:57:37","v":67.4},{"t":"08:57:52","v":64.8},
{"t":"08:58:07","v":65.2},{"t":"08:58:22","v":66.7},{"t":"08:58:37","v":65.0},{"t":"08:58:52","v":66.0},
{"t":"08:59:07","v":64.7},{"t":"08:59:22","v":65.8},{"t":"08:59:37","v":66.9},{"t":"08:59:52","v":65.4},
{"t":"09:00:07","v":66.5},{"t":"09:00:22","v":64.9},{"t":"09:00:37","v":65.6},{"t":"09:00:52","v":67.1},
{"t":"09:01:07","v":65.0},{"t":"09:01:22","v":66.3},{"t":"09:01:37","v":64.8},{"t":"09:01:52","v":65.7},
{"t":"09:02:07","v":66.8},{"t":"09:02:22","v":65.2},{"t":"09:02:37","v":67.3},{"t":"09:02:52","v":64.9},
{"t":"09:03:07","v":65.4},{"t":"09:03:22","v":66.0},{"t":"09:03:37","v":65.1},{"t":"09:03:52","v":66.6},
{"t":"09:04:07","v":64.8},{"t":"09:04:22","v":67.2},{"t":"09:04:37","v":65.9},{"t":"09:04:52","v":65.0},
{"t":"09:05:07","v":66.1},{"t":"09:05:22","v":64.9},{"t":"09:05:37","v":66.7},{"t":"09:05:52","v":65.5},
{"t":"09:06:07","v":65.3},{"t":"09:06:22","v":66.9},{"t":"09:06:37","v":64.8},{"t":"09:06:52","v":67.0},
{"t":"09:07:07","v":66.4},{"t":"09:07:22","v":65.1},{"t":"09:07:37","v":65.8},{"t":"09:07:52","v":64.9},
{"t":"09:08:07","v":65.0},{"t":"09:08:22","v":66.6},{"t":"09:08:37","v":67.5},{"t":"09:08:52","v":65.4},
{"t":"09:09:07","v":64.9},{"t":"09:09:22","v":65.7},{"t":"09:09:37","v":66.2},{"t":"09:09:52","v":65.1},
{"t":"09:10:07","v":66.7},{"t":"09:10:22","v":65.0},{"t":"09:10:37","v":64.8},{"t":"09:10:52","v":66.3},
{"t":"09:11:07","v":65.2},{"t":"09:11:22","v":67.1},{"t":"09:11:37","v":65.6},{"t":"09:11:52","v":64.9},
{"t":"09:12:07","v":66.0},{"t":"09:12:22","v":65.3},{"t":"09:12:37","v":66.8},{"t":"09:12:52","v":65.5},
{"t":"09:13:07","v":64.8},{"t":"09:13:22","v":66.4},{"t":"09:13:37","v":65.0},{"t":"09:13:52","v":67.3},
{"t":"09:14:07","v":65.6},{"t":"09:14:22","v":64.9},{"t":"09:14:37","v":66.5},{"t":"09:14:52","v":65.2},
{"t":"09:15:07","v":67.0},{"t":"09:15:22","v":65.4},{"t":"09:15:37","v":65.1},{"t":"09:15:52","v":66.1},
{"t":"09:16:07","v":65.0},{"t":"09:16:22","v":66.8},{"t":"09:16:37","v":64.9},{"t":"09:16:52","v":65.7},
{"t":"09:17:07","v":66.2},{"t":"09:17:22","v":65.1},{"t":"09:17:37","v":67.4},{"t":"09:17:52","v":65.3},
{"t":"09:18:07","v":64.9},{"t":"09:18:22","v":66.0},{"t":"09:18:37","v":65.5},{"t":"09:18:52","v":66.9},
{"t":"09:19:07","v":65.8},{"t":"09:19:22","v":64.8},{"t":"09:19:37","v":66.6},{"t":"09:19:52","v":65.0},
{"t":"09:20:07","v":66.9},{"t":"09:20:22","v":65.2},{"t":"09:20:37","v":65.9},{"t":"09:20:52","v":64.9},
{"t":"09:21:07","v":65.1},{"t":"09:21:22","v":67.2},{"t":"09:21:37","v":66.3},{"t":"09:21:52","v":65.6},
{"t":"09:22:07","v":64.8},{"t":"09:22:22","v":65.9},{"t":"09:22:37","v":67.0},{"t":"09:22:52","v":65.3},
{"t":"09:23:07","v":66.5},{"t":"09:23:22","v":65.0},{"t":"09:23:37","v":64.9},{"t":"09:23:52","v":66.2},
{"t":"09:24:07","v":65.4},{"t":"09:24:22","v":66.7},{"t":"09:24:37","v":65.2},{"t":"09:24:52","v":67.1},
{"t":"09:25:07","v":64.9},{"t":"09:25:22","v":65.8},{"t":"09:25:37","v":66.4},{"t":"09:25:52","v":65.0},
{"t":"09:26:07","v":66.0},{"t":"09:26:22","v":65.3},{"t":"09:26:37","v":67.3},{"t":"09:26:52","v":64.8},
{"t":"09:27:07","v":65.7},{"t":"09:27:22","v":66.5},{"t":"09:27:37","v":65.1},{"t":"09:27:52","v":66.0},
{"t":"09:28:07","v":67.4},{"t":"09:28:22","v":64.9},{"t":"09:28:37","v":65.6},{"t":"09:28:52","v":66.8},
{"t":"09:29:07","v":65.0},{"t":"09:29:22","v":66.2},{"t":"09:29:37","v":64.8},{"t":"09:29:52","v":65.5},
{"t":"09:30:07","v":66.6},{"t":"09:30:22","v":65.4},{"t":"09:30:37","v":67.1},{"t":"09:30:52","v":65.2},
{"t":"09:31:07","v":64.9},{"t":"09:31:22","v":66.9},{"t":"09:31:37","v":65.3},{"t":"09:31:52","v":66.3},
{"t":"09:32:07","v":65.8},{"t":"09:32:22","v":65.0},{"t":"09:32:37","v":66.5},{"t":"09:32:52","v":64.8},
{"t":"09:33:07","v":66.1},{"t":"09:33:22","v":67.3},{"t":"09:33:37","v":65.2},{"t":"09:33:52","v":65.9},
{"t":"09:34:07","v":65.3},{"t":"09:34:22","v":64.9},{"t":"09:34:37","v":66.7},{"t":"09:34:52","v":65.4},
{"t":"09:35:07","v":67.0},{"t":"09:35:22","v":65.6},{"t":"09:35:37","v":64.8},{"t":"09:35:52","v":66.2},
{"t":"09:36:07","v":65.1},{"t":"09:36:22","v":66.4},{"t":"09:36:37","v":65.7},{"t":"09:36:52","v":67.2},
{"t":"09:37:07","v":64.9},{"t":"09:37:22","v":65.8},{"t":"09:37:37","v":66.9},{"t":"09:37:52","v":65.0},
{"t":"09:38:07","v":66.3},{"t":"09:38:22","v":65.2},{"t":"09:38:37","v":65.5},{"t":"09:38:52","v":66.6},
{"t":"09:39:07","v":65.4},{"t":"09:39:22","v":67.1},{"t":"09:39:37","v":64.9},{"t":"09:39:52","v":65.8},
{"t":"09:40:07","v":66.8},{"t":"09:40:22","v":65.0},{"t":"09:40:37","v":66.1},{"t":"09:40:52","v":65.3},
{"t":"09:41:07","v":65.2},{"t":"09:41:22","v":66.6},{"t":"09:41:37","v":67.4},{"t":"09:41:52","v":64.9},
{"t":"09:42:07","v":66.0},{"t":"09:42:22","v":65.3},{"t":"09:42:37","v":65.1},{"t":"09:42:52","v":66.5},
{"t":"09:43:07","v":64.8},{"t":"09:43:22","v":67.0},{"t":"09:43:37","v":65.8},{"t":"09:43:52","v":65.6},
{"t":"09:44:07","v":66.7},{"t":"09:44:22","v":65.1},{"t":"09:44:37","v":66.3},{"t":"09:44:52","v":64.9},
{"t":"09:45:07","v":65.5},{"t":"09:45:22","v":66.2},{"t":"09:45:37","v":65.0},{"t":"09:45:52","v":67.3},
{"t":"09:46:07","v":66.4},{"t":"09:46:22","v":64.9},{"t":"09:46:37","v":66.8},{"t":"09:46:52","v":65.2},
{"t":"09:47:07","v":65.0},{"t":"09:47:22","v":66.5},{"t":"09:47:37","v":65.6},{"t":"09:47:52","v":66.1},
{"t":"09:48:07","v":67.2},{"t":"09:48:22","v":65.3},{"t":"09:48:37","v":64.8},{"t":"09:48:52","v":66.9},
{"t":"09:49:07","v":65.7},{"t":"09:49:22","v":66.0},{"t":"09:49:37","v":67.1},{"t":"09:49:52","v":65.0},
{"t":"09:50:07","v":64.9},{"t":"09:50:22","v":66.6},{"t":"09:50:37","v":65.4},{"t":"09:50:52","v":65.9},
{"t":"09:51:07","v":66.3},{"t":"09:51:22","v":65.0},{"t":"09:51:37","v":66.7},{"t":"09:51:52","v":65.3},
{"t":"09:52:07","v":65.1},{"t":"09:52:22","v":67.4},{"t":"09:52:37","v":65.8},{"t":"09:52:52","v":64.9},
{"t":"09:53:07","v":66.9},{"t":"09:53:22","v":65.2},{"t":"09:53:37","v":66.2},{"t":"09:53:52","v":65.6},
{"t":"09:54:07","v":65.3},{"t":"09:54:22","v":66.8},{"t":"09:54:37","v":64.9},{"t":"09:54:52","v":67.0},
{"t":"09:55:07","v":66.1},{"t":"09:55:22","v":65.5},{"t":"09:55:37","v":66.4},{"t":"09:55:52","v":65.1},
{"t":"09:56:07","v":70.5},{"t":"09:56:22","v":74.2},{"t":"09:56:37","v":72.6},{"t":"09:56:52","v":68.8},
{"t":"09:57:07","v":65.4},{"t":"09:57:22","v":66.7},{"t":"09:57:37","v":65.0},{"t":"09:57:52","v":66.3},
{"t":"09:58:07","v":66.8},{"t":"09:58:22","v":65.1},{"t":"09:58:37","v":67.2},{"t":"09:58:52","v":65.7},
{"t":"09:59:07","v":65.0},{"t":"09:59:22","v":66.0},{"t":"09:59:37","v":65.3},{"t":"09:59:52","v":66.9},
{"t":"10:00:07","v":66.5},{"t":"10:00:22","v":65.2},{"t":"10:00:37","v":64.9},{"t":"10:00:52","v":67.1},
{"t":"10:01:07","v":65.6},{"t":"10:01:22","v":66.9},{"t":"10:01:37","v":65.8},{"t":"10:01:52","v":65.0},
{"t":"10:02:07","v":64.9},{"t":"10:02:22","v":66.3},{"t":"10:02:37","v":67.0},{"t":"10:02:52","v":65.4},
{"t":"10:03:07","v":66.7},{"t":"10:03:22","v":65.1},{"t":"10:03:37","v":66.1},{"t":"10:03:52","v":65.8},
{"t":"10:04:07","v":65.3},{"t":"10:04:22","v":67.2},{"t":"10:04:37","v":65.0},{"t":"10:04:52","v":66.4},
{"t":"10:05:07","v":66.0},{"t":"10:05:22","v":65.5},{"t":"10:05:37","v":66.8},{"t":"10:05:52","v":64.9},
{"t":"10:06:07","v":65.8},{"t":"10:06:22","v":66.2},{"t":"10:06:37","v":65.2},{"t":"10:06:52","v":67.3},
{"t":"10:07:07","v":67.0},{"t":"10:07:22","v":64.9},{"t":"10:07:37","v":66.5},{"t":"10:07:52","v":65.6},
{"t":"10:08:07","v":65.1},{"t":"10:08:22","v":66.8},{"t":"10:08:37","v":65.9},{"t":"10:08:52","v":66.0},
{"t":"10:09:07","v":66.6},{"t":"10:09:22","v":65.3},{"t":"10:09:37","v":67.4},{"t":"10:09:52","v":65.0},
{"t":"10:10:07","v":64.9},{"t":"10:10:22","v":66.4},{"t":"10:10:37","v":65.5},{"t":"10:10:52","v":66.7},
{"t":"10:11:07","v":66.2},{"t":"10:11:22","v":65.0},{"t":"10:11:37","v":66.9},{"t":"10:11:52","v":65.2},
{"t":"10:12:07","v":65.6},{"t":"10:12:22","v":67.1},{"t":"10:12:37","v":64.8},{"t":"10:12:52","v":66.1},
{"t":"10:13:07","v":72.0},{"t":"10:13:22","v":80.6},{"t":"10:13:37","v":73.5},{"t":"10:13:52","v":66.9},
{"t":"10:14:07","v":65.2},{"t":"10:14:22","v":66.6},{"t":"10:14:37","v":65.7},{"t":"10:14:52","v":74.0},
{"t":"10:15:07","v":66.8},{"t":"10:15:22","v":65.0},{"t":"10:15:37","v":66.3},{"t":"10:15:52","v":65.5},
{"t":"10:16:07","v":65.3},{"t":"10:16:22","v":67.2},{"t":"10:16:37","v":65.9},{"t":"10:16:52","v":66.0},
{"t":"10:17:07","v":66.5},{"t":"10:17:22","v":64.9},{"t":"10:17:37","v":66.7},{"t":"10:17:52","v":65.4},
{"t":"10:18:07","v":65.0},{"t":"10:18:22","v":66.2},{"t":"10:18:37","v":67.1},{"t":"10:18:52","v":65.8},
{"t":"10:19:07","v":67.3},{"t":"10:19:22","v":65.6},{"t":"10:19:37","v":64.9},{"t":"10:19:52","v":66.6},
{"t":"10:20:07","v":65.4},{"t":"10:20:22","v":66.9},{"t":"10:20:37","v":65.2},{"t":"10:20:52","v":66.1},
{"t":"10:21:07","v":66.7},{"t":"10:21:22","v":65.1},{"t":"10:21:37","v":66.0},{"t":"10:21:52","v":67.4},
{"t":"10:22:07","v":65.9},{"t":"10:22:22","v":66.4},{"t":"10:22:37","v":65.3},{"t":"10:22:52","v":65.0},
{"t":"10:23:07","v":64.9},{"t":"10:23:22","v":67.0},{"t":"10:23:37","v":66.2},{"t":"10:23:52","v":65.7},
{"t":"10:24:07","v":66.3},{"t":"10:24:22","v":65.2},{"t":"10:24:37","v":66.8},{"t":"10:24:52","v":65.1},
{"t":"10:25:07","v":65.5},{"t":"10:25:22","v":66.6},{"t":"10:25:37","v":64.9},{"t":"10:25:52","v":67.2},
{"t":"10:26:07","v":66.9},{"t":"10:26:22","v":65.3},{"t":"10:26:37","v":66.1},{"t":"10:26:52","v":65.6},
{"t":"10:27:07","v":65.0},{"t":"10:27:22","v":67.1},{"t":"10:27:37","v":65.8},{"t":"10:27:52","v":66.4},
{"t":"10:28:07","v":66.2},{"t":"10:28:22","v":65.4},{"t":"10:28:37","v":67.3},{"t":"10:28:52","v":65.0},
{"t":"10:29:07","v":65.7},{"t":"10:29:22","v":66.0},{"t":"10:29:37","v":65.1},{"t":"10:29:52","v":66.8},
{"t":"10:30:07","v":67.0},{"t":"10:30:22","v":64.9},{"t":"10:30:37","v":66.5},{"t":"10:30:52","v":65.3},
{"t":"10:31:07","v":65.2},{"t":"10:31:22","v":66.7},{"t":"10:31:37","v":66.0},{"t":"10:31:52","v":65.9},
{"t":"10:32:07","v":66.4},{"t":"10:32:22","v":65.6},{"t":"10:32:37","v":67.2},{"t":"10:32:52","v":64.9},
{"t":"10:33:07","v":65.1},{"t":"10:33:22","v":68.9},{"t":"10:33:37","v":74.6},{"t":"10:33:52","v":80.1},
{"t":"10:34:07","v":88.5},{"t":"10:34:22","v":91.6},{"t":"10:34:37","v":87.2},{"t":"10:34:52","v":81.0},
{"t":"10:35:07","v":76.4},{"t":"10:35:22","v":67.8},{"t":"10:35:37","v":65.3},{"t":"10:35:52","v":66.2},
{"t":"10:36:07","v":65.0},{"t":"10:36:22","v":66.8},{"t":"10:36:37","v":65.7},{"t":"10:36:52","v":67.1},
{"t":"10:37:07","v":66.3},{"t":"10:37:22","v":65.2},{"t":"10:37:37","v":66.9},{"t":"10:37:52","v":65.5},
{"t":"10:38:07","v":65.8},{"t":"10:38:22","v":67.4},{"t":"10:38:37","v":65.1},{"t":"10:38:52","v":66.0},
{"t":"10:39:07","v":66.6},{"t":"10:39:22","v":65.0},{"t":"10:39:37","v":66.2},{"t":"10:39:52","v":65.7},
{"t":"10:40:07","v":65.3},{"t":"10:40:22","v":66.9},{"t":"10:40:37","v":67.2},{"t":"10:40:52","v":65.1},
{"t":"10:41:07","v":66.0},{"t":"10:41:22","v":65.5},{"t":"10:41:37","v":66.6},{"t":"10:41:52","v":64.9},
{"t":"10:42:07","v":67.3},{"t":"10:42:22","v":65.9},{"t":"10:42:37","v":66.4},{"t":"10:42:52","v":65.2},
{"t":"10:43:07","v":65.1},{"t":"10:43:22","v":66.7},{"t":"10:43:37","v":65.0},{"t":"10:43:52","v":67.0},
{"t":"10:44:07","v":66.5},{"t":"10:44:22","v":65.3},{"t":"10:44:37","v":66.1},{"t":"10:44:52","v":65.8},
{"t":"10:45:07","v":65.6},{"t":"10:45:22","v":67.1},{"t":"10:45:37","v":65.4},{"t":"10:45:52","v":66.3},
{"t":"10:46:07","v":66.9},{"t":"10:46:22","v":65.0},{"t":"10:46:37","v":66.8},{"t":"10:46:52","v":65.2},
{"t":"10:47:07","v":65.2},{"t":"10:47:22","v":66.4},{"t":"10:47:37","v":67.3},{"t":"10:47:52","v":65.7},
{"t":"10:48:07","v":66.1},{"t":"10:48:22","v":65.8},{"t":"10:48:37","v":65.0},{"t":"10:48:52","v":66.6},
{"t":"10:49:07","v":65.4},{"t":"10:49:22","v":67.0},{"t":"10:49:37","v":66.3},{"t":"10:49:52","v":65.1},
{"t":"10:50:07","v":67.2},{"t":"10:50:22","v":65.2},{"t":"10:50:37","v":66.7},{"t":"10:50:52","v":65.9},
{"t":"10:51:07","v":65.0},{"t":"10:51:22","v":66.5},{"t":"10:51:37","v":65.6},{"t":"10:51:52","v":67.1},
{"t":"10:52:07","v":66.8},{"t":"10:52:22","v":65.3},{"t":"10:52:37","v":66.0},{"t":"10:52:52","v":65.4},
{"t":"10:53:07","v":65.7},{"t":"10:53:22","v":66.9},{"t":"10:53:37","v":65.1},{"t":"10:53:52","v":66.2},
{"t":"10:54:07","v":66.4},{"t":"10:54:22","v":65.0},{"t":"10:54:37","v":67.4},{"t":"10:54:52","v":65.6},
{"t":"10:55:07","v":65.1},{"t":"10:55:22","v":66.6},{"t":"10:55:37","v":65.8},{"t":"10:55:52","v":66.0},
{"t":"10:56:07","v":67.0},{"t":"10:56:22","v":65.5},{"t":"10:56:37","v":66.3},{"t":"10:56:52","v":65.2},
{"t":"10:57:07","v":65.9},{"t":"10:57:22","v":66.8},{"t":"10:57:37","v":65.0},{"t":"10:57:52","v":67.2},
{"t":"10:58:07","v":66.2},{"t":"10:58:22","v":65.1},{"t":"10:58:37","v":66.6},{"t":"10:58:52","v":65.7},
{"t":"10:59:07","v":65.3},{"t":"10:59:22","v":67.3},{"t":"10:59:37","v":66.0},{"t":"10:59:52","v":65.0},
{"t":"11:00:07","v":66.7},{"t":"11:00:22","v":65.4},{"t":"11:00:37","v":66.9},{"t":"11:00:52","v":65.8},
{"t":"11:01:07","v":65.0},{"t":"11:01:22","v":66.3},{"t":"11:01:37","v":65.2},{"t":"11:01:52","v":67.0},
{"t":"11:02:07","v":66.6},{"t":"11:02:22","v":65.7},{"t":"11:02:37","v":66.1},{"t":"11:02:52","v":65.3},
{"t":"11:03:07","v":65.2},{"t":"11:03:22","v":67.1},{"t":"11:03:37","v":65.9},{"t":"11:03:52","v":66.4},
{"t":"11:04:07","v":66.0},{"t":"11:04:22","v":65.0},{"t":"11:04:37","v":66.8},{"t":"11:04:52","v":65.6},
{"t":"11:05:07","v":67.2},{"t":"11:05:22","v":65.3},{"t":"11:05:37","v":66.2},{"t":"11:05:52","v":65.1},
{"t":"11:06:07","v":65.5},{"t":"11:06:22","v":66.9},{"t":"11:06:37","v":65.0},{"t":"11:06:52","v":66.7},
{"t":"11:07:07","v":66.3},{"t":"11:07:22","v":65.2},{"t":"11:07:37","v":67.4},{"t":"11:07:52","v":65.8},
{"t":"11:08:07","v":65.1},{"t":"11:08:22","v":66.5},{"t":"11:08:37","v":65.6},{"t":"11:08:52","v":66.0},
{"t":"11:09:07","v":66.8},{"t":"11:09:22","v":65.0},{"t":"11:09:37","v":66.3},{"t":"11:09:52","v":67.1},
{"t":"11:10:07","v":65.4},{"t":"11:10:22","v":66.7},{"t":"11:10:37","v":65.2},{"t":"11:10:52","v":65.9},
{"t":"11:11:07","v":66.1},{"t":"11:11:22","v":65.5},{"t":"11:11:37","v":67.0},{"t":"11:11:52","v":65.3},
{"t":"11:12:07","v":65.0},{"t":"11:12:22","v":66.4},{"t":"11:12:37","v":65.8},{"t":"11:12:52","v":66.6},
{"t":"11:13:07","v":66.9},{"t":"11:13:22","v":65.2},{"t":"11:13:37","v":66.0},{"t":"11:13:52","v":65.4},
{"t":"11:14:07","v":65.1}
],"format":{"parse":{"t":"date:'%H:%M:%S'"}}},
"resolve":{"axis":{"x":"independent","y":"independent"}},
"layer":[
 {"mark":{"type":"line","color":"#ff0000","strokeWidth":1.4,"clip":true},
  "encoding":{
   "x":{"field":"t","type":"temporal","scale":{"domain":[{"year":1900,"month":1,"date":1,"hours":7,"minutes":47,"seconds":20},{"year":1900,"month":1,"date":1,"hours":11,"minutes":20,"seconds":0}],"nice":false},
     "axis":{"orient":"bottom","values":[{"year":1900,"month":1,"date":1,"hours":8},{"year":1900,"month":1,"date":1,"hours":9},{"year":1900,"month":1,"date":1,"hours":10},{"year":1900,"month":1,"date":1,"hours":11}],"tickSize":8,"labelPadding":14,"labelExpr":"[timeFormat(datum.value,'%H:%M:%S'),'31-12-2016']","labelLineHeight":28,"labelBaseline":"top","labelAlign":"center","title":"Zeit: 31-12-2016 09:42:52 dBA:66,3 dBC:N/A","titleX":417.5,"titleY":101,"titleBaseline":"middle","titleAlign":"center"}},
   "y":{"field":"v","type":"quantitative","scale":{"domain":[62,99.5],"nice":false,"zero":false},
     "axis":{"orient":"left","values":[65,70,75,80,85,90,95],"tickSize":8,"labelPadding":21,"title":"Schallpegel","titleX":-92,"titleY":217.5,"titleBaseline":"middle","titleAlign":"center","titleAngle":270}}
  }},
 {"mark":{"type":"point","shape":"M-1,-1L1,1M1,-1L-1,1","filled":false,"size":196,"strokeWidth":1.1,"opacity":1,"clip":true},
  "encoding":{
   "x":{"field":"t","type":"temporal","scale":{"domain":[{"year":1900,"month":1,"date":1,"hours":7,"minutes":47,"seconds":20},{"year":1900,"month":1,"date":1,"hours":11,"minutes":20,"seconds":0}],"nice":false},
     "axis":{"orient":"bottom","values":[{"year":1900,"month":1,"date":1,"hours":8,"minutes":15},{"year":1900,"month":1,"date":1,"hours":8,"minutes":30},{"year":1900,"month":1,"date":1,"hours":8,"minutes":45},{"year":1900,"month":1,"date":1,"hours":9,"minutes":15},{"year":1900,"month":1,"date":1,"hours":9,"minutes":30},{"year":1900,"month":1,"date":1,"hours":9,"minutes":45},{"year":1900,"month":1,"date":1,"hours":10,"minutes":15},{"year":1900,"month":1,"date":1,"hours":10,"minutes":30},{"year":1900,"month":1,"date":1,"hours":10,"minutes":45},{"year":1900,"month":1,"date":1,"hours":11,"minutes":15}],"tickSize":5,"labels":false,"domain":false,"title":null}},
   "y":{"field":"v","type":"quantitative","scale":{"domain":[62,99.5],"nice":false,"zero":false},
     "axis":{"orient":"left","values":[63,64,66,67,68,69,71,72,73,74,76,77,78,79,81,82,83,84,86,87,88,89,91,92,93,94,96,97,98,99],"tickSize":4,"labels":false,"domain":false,"title":null}},
   "color":{"datum":"Schallpegel dBA","type":"nominal","scale":{"domain":["Schallpegel dBA","Schallpegel dBC"],"range":["#ff0000","#00ff00"]},
     "legend":{"orient":"none","legendX":1,"legendY":-38,"direction":"horizontal","columns":2,"title":null,"strokeColor":"#000","fillColor":"#fff","padding":2,"symbolType":"M-1,-1L1,1M1,-1L-1,1","symbolSize":196,"symbolStrokeWidth":1,"symbolFillColor":"transparent","symbolOffset":20,"labelOffset":29,"columnPadding":15,"labelFont":"Liberation Sans","labelFontSize":21.5,"labelColor":"#000","cornerRadius":0}}
  }},
 {"data":{"values":[{"t":"08:00:00","v":70}],"format":{"parse":{"t":"date:'%H:%M:%S'"}}},
  "mark":{"type":"point","opacity":0},
  "encoding":{
   "x":{"field":"t","type":"temporal","scale":{"domain":[{"year":1900,"month":1,"date":1,"hours":7,"minutes":47,"seconds":20},{"year":1900,"month":1,"date":1,"hours":11,"minutes":20,"seconds":0}],"nice":false},
     "axis":{"orient":"top","offset":-8,"values":[{"year":1900,"month":1,"date":1,"hours":8},{"year":1900,"month":1,"date":1,"hours":9},{"year":1900,"month":1,"date":1,"hours":10},{"year":1900,"month":1,"date":1,"hours":11}],"tickSize":8,"labels":false,"domain":false,"title":null}},
   "y":{"field":"v","type":"quantitative","scale":{"domain":[62,99.5],"nice":false,"zero":false},
     "axis":{"orient":"left","offset":-9,"values":[65,70,75,80,85,90,95],"tickSize":9,"labels":false,"domain":false,"title":null}}
  }},
 {"data":{"values":[{"t":"08:00:00","v":70}],"format":{"parse":{"t":"date:'%H:%M:%S'"}}},
  "mark":{"type":"point","opacity":0},
  "encoding":{
   "x":{"field":"t","type":"temporal","scale":{"domain":[{"year":1900,"month":1,"date":1,"hours":7,"minutes":47,"seconds":20},{"year":1900,"month":1,"date":1,"hours":11,"minutes":20,"seconds":0}],"nice":false},
     "axis":{"orient":"top","offset":-5,"values":[{"year":1900,"month":1,"date":1,"hours":8,"minutes":15},{"year":1900,"month":1,"date":1,"hours":8,"minutes":30},{"year":1900,"month":1,"date":1,"hours":8,"minutes":45},{"year":1900,"month":1,"date":1,"hours":9,"minutes":15},{"year":1900,"month":1,"date":1,"hours":9,"minutes":30},{"year":1900,"month":1,"date":1,"hours":9,"minutes":45},{"year":1900,"month":1,"date":1,"hours":10,"minutes":15},{"year":1900,"month":1,"date":1,"hours":10,"minutes":30},{"year":1900,"month":1,"date":1,"hours":10,"minutes":45},{"year":1900,"month":1,"date":1,"hours":11,"minutes":15}],"tickSize":5,"labels":false,"domain":false,"title":null}},
   "y":{"field":"v","type":"quantitative","scale":{"domain":[62,99.5],"nice":false,"zero":false},
     "axis":{"orient":"left","offset":-4,"values":[63,64,66,67,68,69,71,72,73,74,76,77,78,79,81,82,83,84,86,87,88,89,91,92,93,94,96,97,98,99],"tickSize":4,"labels":false,"domain":false,"title":null}}
  }},
 {"data":{"values":[{"t":"08:00:00","v":70}],"format":{"parse":{"t":"date:'%H:%M:%S'"}}},
  "mark":{"type":"point","opacity":0},
  "encoding":{
   "x":{"field":"t","type":"temporal","scale":{"domain":[{"year":1900,"month":1,"date":1,"hours":7,"minutes":47,"seconds":20},{"year":1900,"month":1,"date":1,"hours":11,"minutes":20,"seconds":0}],"nice":false},
     "axis":{"orient":"bottom","offset":-4,"values":[{"year":1900,"month":1,"date":1,"hours":8},{"year":1900,"month":1,"date":1,"hours":8,"minutes":15},{"year":1900,"month":1,"date":1,"hours":8,"minutes":30},{"year":1900,"month":1,"date":1,"hours":8,"minutes":45},{"year":1900,"month":1,"date":1,"hours":9},{"year":1900,"month":1,"date":1,"hours":9,"minutes":15},{"year":1900,"month":1,"date":1,"hours":9,"minutes":30},{"year":1900,"month":1,"date":1,"hours":9,"minutes":45},{"year":1900,"month":1,"date":1,"hours":10},{"year":1900,"month":1,"date":1,"hours":10,"minutes":15},{"year":1900,"month":1,"date":1,"hours":10,"minutes":30},{"year":1900,"month":1,"date":1,"hours":10,"minutes":45},{"year":1900,"month":1,"date":1,"hours":11},{"year":1900,"month":1,"date":1,"hours":11,"minutes":15}],"tickSize":4,"labels":false,"domain":false,"title":null}},
   "y":{"field":"v","type":"quantitative","scale":{"domain":[62,99.5],"nice":false,"zero":false},"axis":null}
  }}
]
}
